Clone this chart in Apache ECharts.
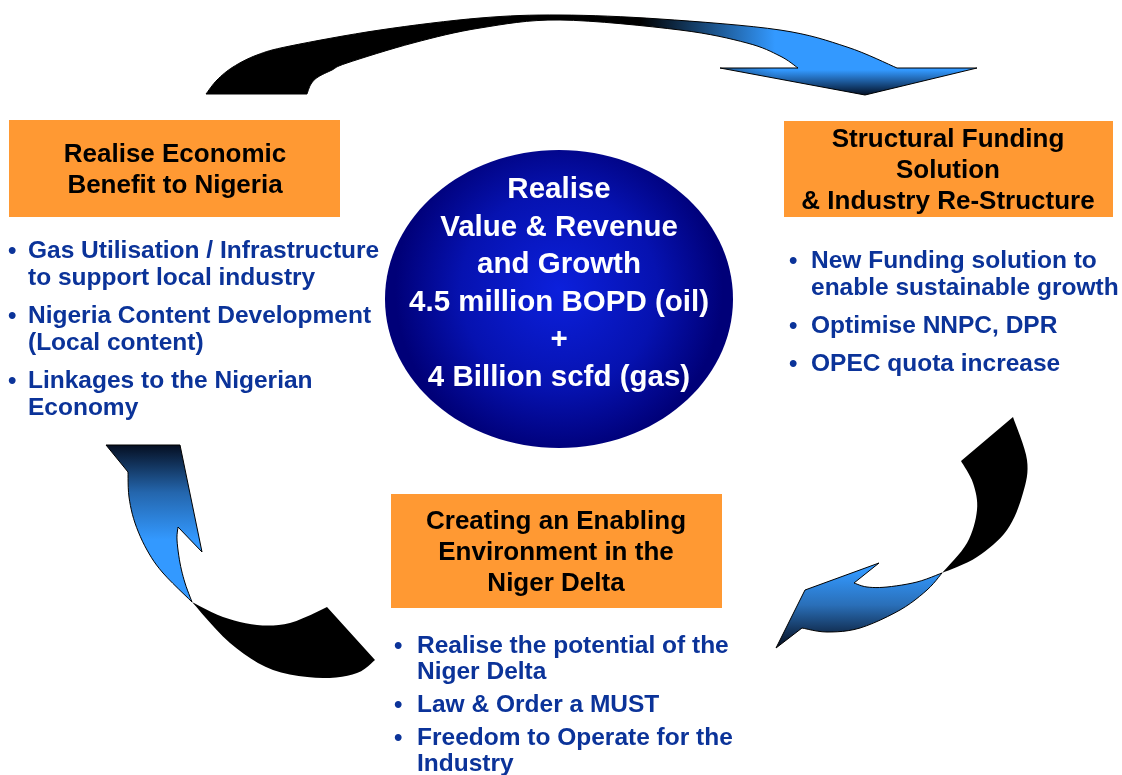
<!DOCTYPE html>
<html>
<head>
    <meta charset="utf-8">
    <script src="https://cdn.jsdelivr.net/npm/echarts@6.0.0/dist/echarts.min.js"></script>
    <style>
        html, body { margin: 0; padding: 0; background: #fff; }
        #main { width: 1122px; height: 775px; }
    </style>
</head>
<body>
    <div id="main"></div>
    <script type="text/javascript">
        // texts of the diagram
        var centerLines = ['Realise', 'Value & Revenue', 'and Growth', '4.5 million BOPD (oil)', '+', '4 Billion scfd (gas)'];
        var leftTitle = ['Realise Economic', 'Benefit to Nigeria'];
        var leftBullets = [
            ['Gas Utilisation / Infrastructure', 'to support local industry'],
            ['Nigeria Content Development', '(Local content)'],
            ['Linkages to the Nigerian', 'Economy']
        ];
        var rightTitle = ['Structural Funding', 'Solution', '& Industry Re-Structure'];
        var rightBullets = [
            ['New Funding solution to', 'enable sustainable growth'],
            ['Optimise NNPC, DPR'],
            ['OPEC quota increase']
        ];
        var bottomTitle = ['Creating an Enabling', 'Environment in the', 'Niger Delta'];
        var bottomBullets = [
            ['Realise the potential of the', 'Niger Delta'],
            ['Law & Order a MUST'],
            ['Freedom to Operate for the', 'Industry']
        ];

        var FONT = '"Liberation Sans", Arial, sans-serif';
        var ORANGE = '#FF9933';
        var BLUE_TXT = '#0B3399';

        // catmull-rom through outline points, to get smooth arrow edges
        function spline(pts, n) {
            var out = [];
            for (var i = 0; i < pts.length - 1; i++) {
                var p0 = pts[i - 1] || pts[i], p1 = pts[i], p2 = pts[i + 1], p3 = pts[i + 2] || pts[i + 1];
                for (var k = 0; k < n; k++) {
                    var t = k / n, t2 = t * t, t3 = t2 * t;
                    var f = function (a, b, c, d) {
                        return 0.5 * ((2 * b) + (-a + c) * t + (2 * a - 5 * b + 4 * c - d) * t2 + (-a + 3 * b - 3 * c + d) * t3);
                    };
                    out.push([f(p0[0], p1[0], p2[0], p3[0]), f(p0[1], p1[1], p2[1], p3[1])]);
                }
            }
            out.push(pts[pts.length - 1]);
            return out;
        }

        var lin = function (x0, y0, x1, y1, stops) {
            return new echarts.graphic.LinearGradient(x0, y0, x1, y1, stops, true);
        };

        var elements = [];

        // ---- top arrow (left -> right)
        var topOuter = spline([[206, 94], [217, 80], [233, 67], [257, 55], [290, 46], [380, 30], [480, 18], [560, 15], [660, 19], [780, 30], [847, 47], [897, 68]], 8);
        var topInner = spline([[307, 94], [311, 84], [318, 77], [332, 70], [347, 63], [413, 43], [480, 28], [560, 20], [680, 30], [747, 43], [780, 56], [798, 68]], 8).reverse();
        var topPts = topOuter.concat([[977, 68], [865, 95], [720, 68]]).concat(topInner);
        elements.push({
            type: 'polygon', shape: { points: topPts },
            style: { fill: lin(640, 0, 775, 0, [{ offset: 0, color: '#000' }, { offset: 1, color: '#3399FF' }]) }
        });
        elements.push({
            type: 'polygon', shape: { points: [[720, 68], [977, 68], [865, 95]] },
            style: { fill: lin(0, 70, 0, 95, [{ offset: 0, color: 'rgba(0,10,30,0)' }, { offset: 1, color: 'rgba(0,8,25,0.95)' }]) }
        });
        elements.push({
            type: 'polygon', shape: { points: topPts },
            style: { fill: null, stroke: '#000', lineWidth: 1 }
        });

        // ---- right arrow (down, pointing to bottom-left)
        var rBlackIn = spline([[942, 573], [967, 543], [977, 510], [973, 483], [961, 461]], 8);
        var rBlackOut = spline([[1013, 417], [1027, 460], [1023, 493], [1007, 530], [977, 557], [942, 573]], 8);
        elements.push({
            type: 'polygon', shape: { points: rBlackIn.concat(rBlackOut) },
            style: { fill: '#000' }
        });
        var rBlueUp = spline([[942, 573], [917, 582], [887, 587], [867, 587], [854, 583]], 6);
        var rBlueLow = spline([[802, 628], [827, 632], [860, 628], [900, 610], [927, 590], [942, 573]], 6);
        var rBlue = rBlueUp.concat([[879, 563], [805, 590], [776, 648]]).concat(rBlueLow);
        elements.push({
            type: 'polygon', shape: { points: rBlue },
            style: {
                fill: lin(0, 570, 0, 648, [{ offset: 0, color: '#3399FF' }, { offset: 0.45, color: '#2a6fb8' }, { offset: 1, color: '#050c1c' }]),
                stroke: '#000', lineWidth: 1
            }
        });

        // ---- left arrow (up, from bottom)
        var lBlackUp = spline([[192, 602], [223, 617], [257, 625], [290, 623], [327, 607]], 6);
        var lBlackLow = spline([[375, 660], [357, 673], [323, 678], [273, 670], [230, 643], [192, 602]], 6);
        elements.push({
            type: 'polygon', shape: { points: lBlackUp.concat(lBlackLow) },
            style: { fill: '#000' }
        });
        var lBlueIn = spline([[178, 527], [177, 540], [180, 563], [185, 583], [192, 602]], 6);
        var lBlueOut = spline([[192, 602], [163, 573], [147, 550], [135, 523], [129, 497], [128, 472]], 6);
        var lBlue = [[106, 445], [180, 445], [202, 552]].concat(lBlueIn).concat(lBlueOut);
        elements.push({
            type: 'polygon', shape: { points: lBlue },
            style: {
                fill: lin(0, 445, 0, 540, [{ offset: 0, color: '#050f22' }, { offset: 0.5, color: '#2466ad' }, { offset: 1, color: '#3399FF' }]),
                stroke: '#000', lineWidth: 1
            }
        });

        // ---- central ellipse
        elements.push({
            type: 'ellipse', shape: { cx: 559, cy: 299, rx: 174, ry: 149 },
            style: {
                fill: new echarts.graphic.RadialGradient(0.5, 0.47, 0.55, [
                    { offset: 0, color: '#0c20dc' }, { offset: 0.6, color: '#0612b0' }, { offset: 1, color: '#000078' }
                ])
            }
        });
        centerLines.forEach(function (t, i) {
            elements.push({
                type: 'text',
                style: {
                    text: t, x: 559, y: 190 + i * 37.5, fill: '#fff',
                    font: 'bold 29.5px ' + FONT, textAlign: 'center', textVerticalAlign: 'middle'
                }
            });
        });

        // ---- orange title boxes with bullets
        function panel(box, title, titleY, titleX, bullets, bx, tx, by, lineH, gap) {
            elements.push({
                type: 'rect', shape: { x: box[0], y: box[1], width: box[2], height: box[3] },
                style: { fill: ORANGE }
            });
            title.forEach(function (t, i) {
                elements.push({
                    type: 'text',
                    style: {
                        text: t, x: titleX, y: titleY + i * 31, fill: '#000',
                        font: 'bold 26px ' + FONT, textAlign: 'center', textVerticalAlign: 'middle'
                    }
                });
            });
            var y = by;
            bullets.forEach(function (lines) {
                elements.push({
                    type: 'text',
                    style: {
                        text: '\u2022', x: bx, y: y, fill: BLUE_TXT,
                        font: 'bold 24px ' + FONT, textAlign: 'left', textVerticalAlign: 'middle'
                    }
                });
                lines.forEach(function (t, i) {
                    elements.push({
                        type: 'text',
                        style: {
                            text: t, x: tx, y: y + i * lineH, fill: BLUE_TXT,
                            font: 'bold 24.5px ' + FONT, textAlign: 'left', textVerticalAlign: 'middle'
                        }
                    });
                });
                y += (lines.length - 1) * lineH + gap;
            });
        }

        panel([9, 120, 331, 97], leftTitle, 155, 175, leftBullets, 8, 28, 251, 27, 38);
        panel([784, 121, 329, 96], rightTitle, 140, 948, rightBullets, 789, 811, 261, 27, 38);
        panel([391, 494, 331, 114], bottomTitle, 522, 556, bottomBullets, 394, 417, 646, 26, 33);

        var myChart = echarts.init(document.getElementById('main'));
        myChart.setOption({
            backgroundColor: '#fff',
            animation: false,
            graphic: { elements: elements }
        });
    </script>
</body>
</html>
